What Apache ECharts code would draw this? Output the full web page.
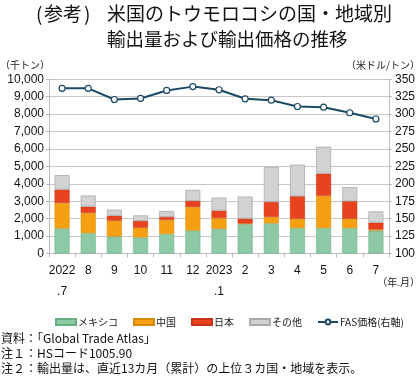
<!DOCTYPE html>
<html><head><meta charset="utf-8">
<script src="https://cdn.jsdelivr.net/npm/echarts@6/dist/echarts.min.js"></script>
<style>html,body{margin:0;padding:0;background:#fff}#c{width:420px;height:378px}</style>
</head><body><div id="c"></div>
<script>
const categories = ['2022\n.7','8','9','10','11','12','2023\n.1','2','3','4','5','6','7'];
const mexico = [1440,1170,980,920,1120,1310,1420,1690,1730,1460,1460,1460,1310];
const china  = [1460,1160,900,560,800,1360,620,30,370,540,1850,540,70];
const japan  = [770,360,290,390,180,350,420,280,860,1290,1270,1000,390];
const others = [830,640,350,320,340,630,750,1270,2020,1810,1550,810,650];
const fasPrice = [337,337,321,322.5,334,339.5,335,322,320,311,310,302,293];

const FONT = '"Noto Sans CJK JP", "Noto Sans", sans-serif';
const NUMFONT = '"Liberation Sans", Arial, sans-serif';
const chart = echarts.init(document.getElementById('c'), null, {renderer:'canvas'});
const barCommon = {type:'bar', stack:'t', barWidth:15, yAxisIndex:0};
chart.setOption({
  animation:false,
  textStyle:{fontFamily:FONT},
  grid:{left:49, right:31, top:79.3, bottom:124.5, containLabel:false},
  graphic:[
    {type:'text', left:36, top:4, style:{text:'(', font:'19px '+FONT, fill:'#111'}},
    {type:'text', left:44, top:4, style:{text:'参考', font:'19px '+FONT, fill:'#111'}},
    {type:'text', left:84, top:4, style:{text:')', font:'19px '+FONT, fill:'#111'}},
    {type:'text', left:107, top:4, style:{text:'米国のトウモロコシの国・地域別', font:'19px '+FONT, fill:'#111'}},
    {type:'text', left:107, top:30, style:{text:'輸出量および輸出価格の推移', font:'18.5px '+FONT, fill:'#111'}},
    {type:'text', left:0, top:60, style:{text:'（千トン）', font:'10px '+FONT, fill:'#222'}},
    {type:'text', right:0, top:60, style:{text:'（米ドル/トン）', font:'10px '+FONT, fill:'#222'}},
    {type:'text', right:0, top:277, style:{text:'（年.月）', font:'10px '+FONT, fill:'#222'}},
    {type:'text', left:1, top:332, style:{text:'資料：「Global Trade Atlas」', font:'12px '+FONT, fill:'#111'}},
    {type:'text', left:1, top:347, style:{text:'注１：HSコード1005.90', font:'12px '+FONT, fill:'#111'}},
    {type:'text', left:1, top:362, style:{text:'注２：輸出量は、直近13カ月（累計）の上位３カ国・地域を表示。', font:'12px '+FONT, fill:'#111'}}
  ],
  legend:{
    left:50, top:312, width:380, itemWidth:20, itemHeight:6, itemGap:15,
    textStyle:{fontSize:10, color:'#222', fontFamily:FONT, padding:[0,0,0,-3]},
    data:[
      {name:'メキシコ', icon:'rect'},
      {name:'中国', icon:'rect'},
      {name:'日本', icon:'rect'},
      {name:'その他', icon:'rect'},
      {name:'FAS価格(右軸)'}
    ]
  },
  xAxis:{
    type:'category', data:categories,
    axisLine:{lineStyle:{color:'#bbb'}},
    axisTick:{show:true, length:4, lineStyle:{color:'#bbb'}},
    axisLabel:{color:'#111', fontSize:12, lineHeight:21, margin:7, interval:0, fontFamily:NUMFONT}
  },
  yAxis:[
    {type:'value', min:0, max:10000, interval:1000,
     axisLine:{show:true, lineStyle:{color:'#bbb'}}, axisTick:{show:true, length:3, lineStyle:{color:'#bbb'}},
     splitLine:{lineStyle:{color:'#c8c8c8'}},
     axisLabel:{color:'#111', fontSize:12, margin:5, fontFamily:NUMFONT,
       formatter:v=>v.toLocaleString('en-US')}},
    {type:'value', min:100, max:350, interval:25, position:'right',
     axisLine:{show:true, lineStyle:{color:'#bbb'}}, axisTick:{show:true, length:3, lineStyle:{color:'#bbb'}},
     splitLine:{show:false},
     axisLabel:{color:'#111', fontSize:12, margin:6, fontFamily:NUMFONT}}
  ],
  series:[
    Object.assign({name:'メキシコ', data:mexico, itemStyle:{color:'#8cc9a4', borderColor:'#6aae86', borderWidth:0.5}}, barCommon),
    Object.assign({name:'中国', data:china, itemStyle:{color:'#f4a012', borderColor:'#d98c0a', borderWidth:0.5}}, barCommon),
    Object.assign({name:'日本', data:japan, itemStyle:{color:'#e8421e', borderColor:'#c9351a', borderWidth:0.5}}, barCommon),
    Object.assign({name:'その他', data:others, itemStyle:{color:'#d2d2d2', borderColor:'#aaa', borderWidth:0.8}}, barCommon),
    {name:'FAS価格(右軸)', type:'line', yAxisIndex:1, data:fasPrice,
     lineStyle:{color:'#1c4a66', width:2}, itemStyle:{color:'#fff', borderColor:'#1c4a66', borderWidth:1.2},
     symbol:'circle', symbolSize:6, showSymbol:true}
  ]
});
</script></body></html>
